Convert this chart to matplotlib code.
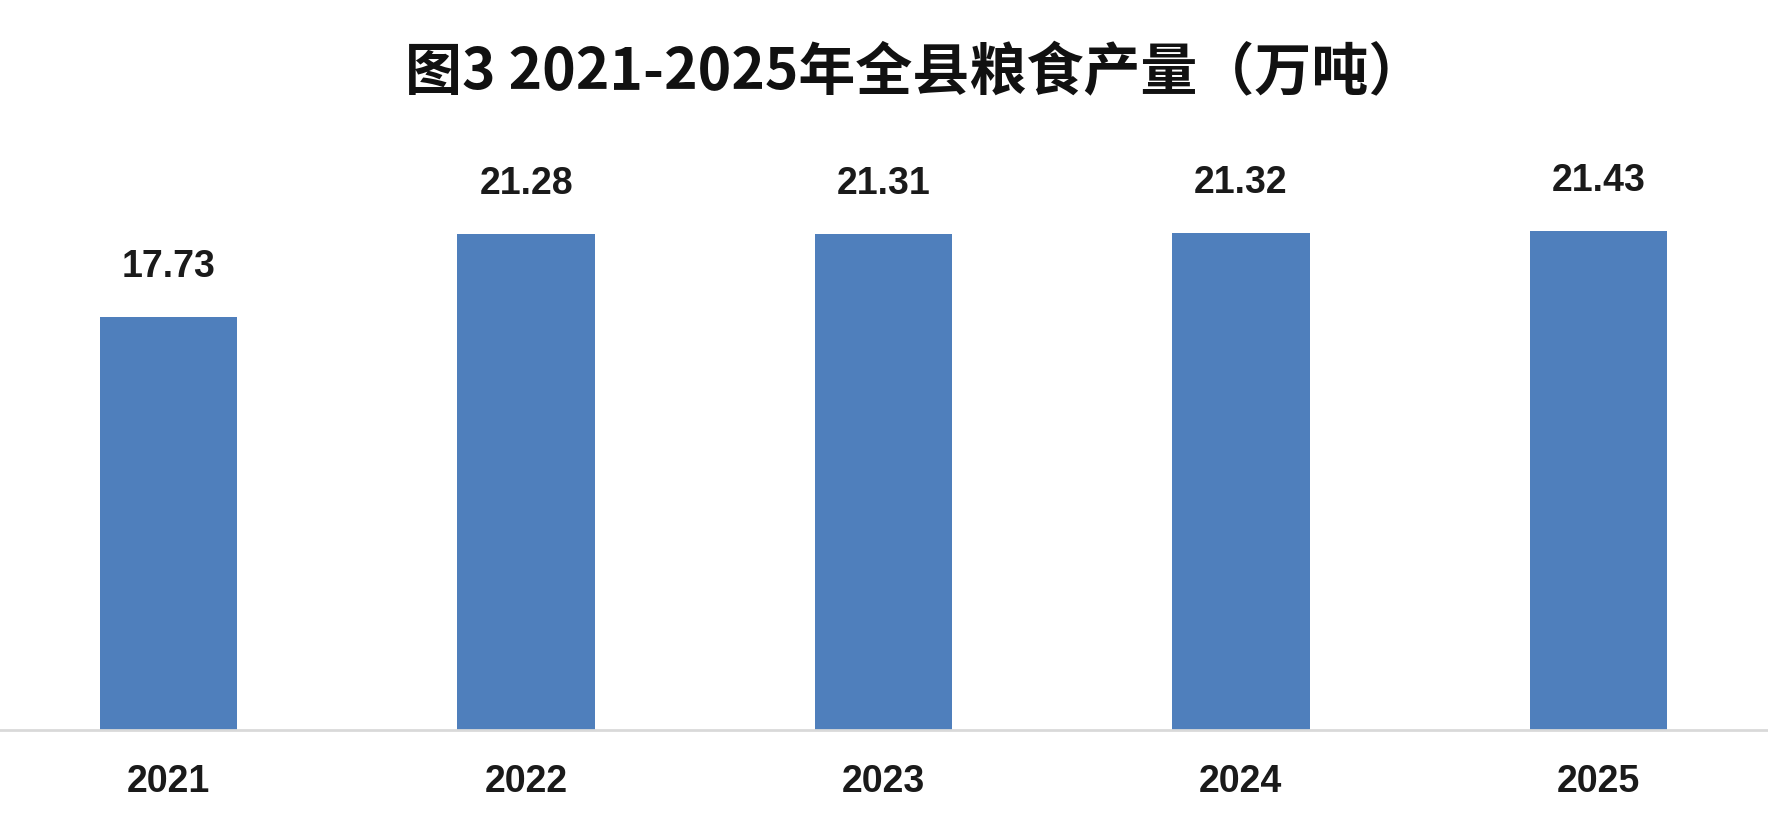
import numpy as np
import matplotlib
matplotlib.use('Agg')
from matplotlib import pyplot as plt

plt.rcParams['font.family'] = ['Liberation Sans', 'Noto Sans CJK SC', 'DejaVu Sans']

# data
years = ['2021', '2022', '2023', '2024', '2025']
output = [17.73, 21.28, 21.31, 21.32, 21.43]
title = '图3 2021-2025年全县粮食产量（万吨）'

W, H = 1768, 827
fig = plt.figure(figsize=(W / 100, H / 100), dpi=100)

# plot area is a bit wider than the picture, like the cropped excel chart
base_px = 729.6
top_px = 147.6
ax = fig.add_axes([-10 / W, (H - base_px) / H, 1787 / W, (base_px - top_px) / H])

x = np.arange(len(years))
bars = ax.bar(x, output, width=0.385, color='#4f7fbc', zorder=2)

ax.set_xlim(-0.5, len(years) - 0.5)
ax.set_ylim(0, 25)

for i, v in enumerate(output):
    ax.annotate('%.2f' % v, (x[i], v), xytext=(0, 36), textcoords='offset points',
                ha='center', va='center', fontsize=27, fontweight='bold', color='#1a1a1a')

ax.set_xticks(x)
ax.set_xticklabels(years, fontsize=27, fontweight='bold', color='#1a1a1a')
ax.tick_params(axis='x', length=0, pad=25)
ax.set_yticks([])

for s in ['top', 'right', 'left']:
    ax.spines[s].set_visible(False)
ax.spines['bottom'].set_color('#d9d9d9')
ax.spines['bottom'].set_linewidth(2)

fig.text(915 / W, 1 - 73 / H, title, ha='center', va='center', fontsize=41,
         fontweight='bold', family=['Noto Sans CJK SC', 'DejaVu Sans'], color='#111111')

fig.savefig('out.png', dpi=100, facecolor='white')
